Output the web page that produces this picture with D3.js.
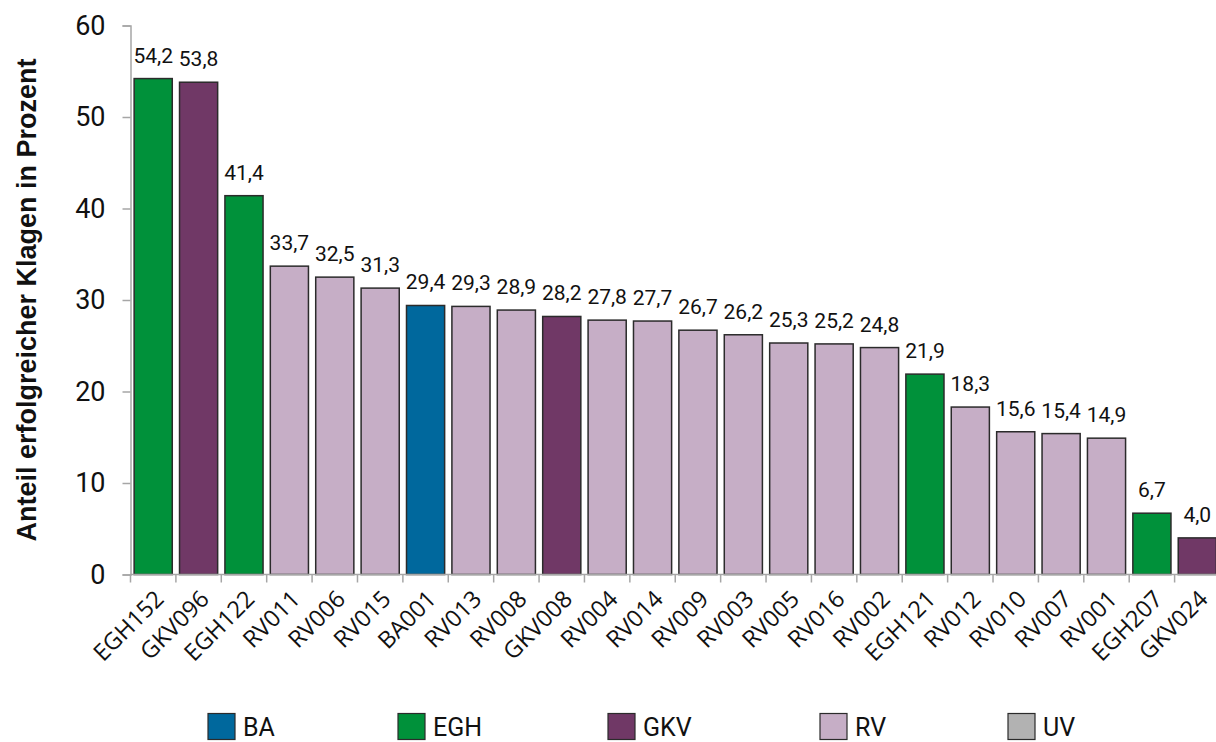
<!DOCTYPE html>
<html>
<head>
<meta charset="utf-8">
<script src="https://cdn.jsdelivr.net/npm/d3@7"></script>
<style>
  html, body { margin: 0; padding: 0; background: #fff; }
  svg { display: block; }
</style>
</head>
<body>
<svg id="chart" width="1216" height="742"></svg>
<script>
  'use strict';

  var categories = ['EGH152', 'GKV096', 'EGH122', 'RV011', 'RV006', 'RV015', 'BA001', 'RV013',
    'RV008', 'GKV008', 'RV004', 'RV014', 'RV009', 'RV003', 'RV005', 'RV016', 'RV002',
    'EGH121', 'RV012', 'RV010', 'RV007', 'RV001', 'EGH207', 'GKV024'];
  var values = [54.2, 53.8, 41.4, 33.7, 32.5, 31.3, 29.4, 29.3, 28.9, 28.2, 27.8, 27.7, 26.7,
    26.2, 25.3, 25.2, 24.8, 21.9, 18.3, 15.6, 15.4, 14.9, 6.7, 4.0];
  var groups = ['BA', 'EGH', 'GKV', 'RV', 'UV'];
  var groupColors = ['#00689d', '#00913a', '#703866', '#c6aec6', '#b2b2b2'];
  var yTicks = [0, 10, 20, 30, 40, 50, 60];
  var yTitle = 'Anteil erfolgreicher Klagen in Prozent';

  var data = categories.map(function(c, i) {
    return { name: c, value: values[i], group: c.replace(/[0-9]+$/, '') };
  });

  var svg = d3.select('#chart');
  var x = d3.scaleBand().domain(categories).range([130.5, 1220]).paddingInner(0.16).paddingOuter(0.08);
  var y = d3.scaleLinear().domain([0, 60]).range([574.5, 25.5]);
  var color = d3.scaleOrdinal().domain(groups).range(groupColors);
  var fmt = function(v) { return d3.format('.1f')(v).replace('.', ','); };

  // bars
  svg.selectAll('rect.bar')
    .data(data)
    .enter()
    .append('rect')
    .attr('class', 'bar')
    .attr('x', function(d) { return x(d.name); })
    .attr('y', function(d) { return y(d.value); })
    .attr('width', x.bandwidth())
    .attr('height', function(d) { return y(0) - y(d.value); })
    .attr('fill', function(d) { return color(d.group); })
    .attr('stroke', '#2b2b2b')
    .attr('stroke-width', 1.5);

  // value labels
  svg.selectAll('text.val')
    .data(data)
    .enter()
    .append('text')
    .attr('class', 'val')
    .attr('x', function(d) { return x(d.name) + x.bandwidth() / 2; })
    .attr('y', function(d) { return y(d.value) - 16; })
    .attr('text-anchor', 'middle')
    .attr('font-family', 'Roboto')
    .attr('font-size', 21)
    .attr('fill', '#111')
    .text(function(d) { return fmt(d.value); });

  // y axis
  var yAxis = svg.append('g')
    .attr('transform', 'translate(130.5,0)')
    .call(d3.axisLeft(y).tickValues(yTicks).tickSize(8).tickSizeOuter(8).tickPadding(17));
  yAxis.selectAll('path, line').attr('stroke', '#a6a6a6').attr('stroke-width', 1.5);
  yAxis.selectAll('text').attr('font-family', 'Roboto').attr('font-size', 27).attr('fill', '#111');

  // x axis: ticks on band boundaries
  var xAxis = svg.append('g').attr('transform', 'translate(0,574.5)');
  xAxis.append('line')
    .attr('x1', 130.5).attr('x2', 1216)
    .attr('stroke', '#a6a6a6').attr('stroke-width', 1.5);
  var step = x.step();
  var boundaries = categories.map(function(c) { return x(c) - step * x.paddingInner() / 2; });
  xAxis.selectAll('line.tick')
    .data(boundaries)
    .enter()
    .append('line')
    .attr('class', 'tick')
    .attr('x1', function(d) { return d; })
    .attr('x2', function(d) { return d; })
    .attr('y1', 0).attr('y2', 8)
    .attr('stroke', '#a6a6a6').attr('stroke-width', 1.5);
  xAxis.selectAll('text.cat')
    .data(data)
    .enter()
    .append('text')
    .attr('class', 'cat')
    .attr('text-anchor', 'end')
    .attr('font-family', 'Open Sans')
    .attr('font-size', 23.5)
    .attr('fill', '#111')
    .attr('transform', function(d) {
      return 'translate(' + (x(d.name) + x.bandwidth() / 2 + 12) + ',' + 26 + ') rotate(-45)';
    })
    .text(function(d) { return d.name; });

  // y title
  svg.append('text')
    .attr('transform', 'translate(36,' + y(30) + ') rotate(-90)')
    .attr('text-anchor', 'middle')
    .attr('font-family', 'Liberation Sans')
    .attr('font-weight', 'bold')
    .attr('font-size', 27)
    .attr('fill', '#111')
    .text(yTitle);

  // legend
  var legendX = [208, 398, 608, 820, 1008];
  var legend = svg.selectAll('g.legend')
    .data(groups)
    .enter()
    .append('g')
    .attr('class', 'legend')
    .attr('transform', function(d, i) { return 'translate(' + legendX[i] + ',713.5)'; });
  legend.append('rect')
    .attr('width', 27).attr('height', 26)
    .attr('fill', function(d) { return color(d); })
    .attr('stroke', '#2b2b2b').attr('stroke-width', 1.2);
  legend.append('text')
    .attr('x', 35).attr('y', 22)
    .attr('font-family', 'Roboto')
    .attr('font-size', 25)
    .attr('fill', '#111')
    .text(function(d) { return d; });
</script>
</body>
</html>
